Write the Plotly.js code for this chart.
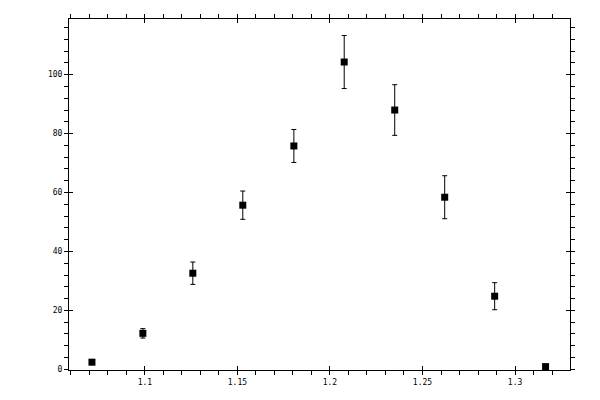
<!DOCTYPE html>
<html>
<head>
<meta charset="utf-8">
<script src="https://cdn.plot.ly/plotly-3.0.1.min.js"></script>
<style>html,body{margin:0;padding:0;background:#fff;}#chart{width:600px;height:400px;}</style>
</head>
<body>
<div id="chart"></div>
<script>
var xValues = [1.0714, 1.0989, 1.1259, 1.1529, 1.1805, 1.2077, 1.235, 1.262, 1.289, 1.3165];
var yValues = [2.4, 12.2, 32.6, 55.7, 75.8, 104.3, 88.0, 58.4, 24.8, 0.9];
var yErrors = [0.8, 1.6, 3.8, 4.8, 5.6, 9.0, 8.6, 7.3, 4.6, 0.5];

var xRange = [1.0590, 1.3297];
var yRange = [-0.25, 118.9];

var tickFont = {family: 'DejaVu Sans Mono', size: 8, color: '#000'};

var trace = {
  x: xValues, y: yValues, type: 'scatter', mode: 'markers',
  marker: {symbol: 'square', size: 7, color: '#000'},
  error_y: {type: 'data', array: yErrors, visible: true, color: '#000', thickness: 1, width: 2.5},
  xaxis: 'x', yaxis: 'y', showlegend: false, hoverinfo: 'none'
};
var dummy = {x: [xRange[0]], y: [yRange[0]], type: 'scatter', mode: 'markers',
  marker: {opacity: 0}, xaxis: 'x2', yaxis: 'y2', showlegend: false, hoverinfo: 'none'};

var layout = {
  width: 600, height: 400,
  margin: {l: 69, r: 30, t: 19, b: 30},
  paper_bgcolor: '#fff', plot_bgcolor: '#fff',
  xaxis: {
    range: xRange, showgrid: false, zeroline: false,
    showline: true, linecolor: '#000', linewidth: 1, mirror: 'ticks',
    ticks: 'outside', ticklen: 4, tickwidth: 1, tickcolor: '#000',
    tick0: 1.1, dtick: 0.05, tickfont: tickFont,
    tickvals: [1.1, 1.15, 1.2, 1.25, 1.3], ticktext: ['1.1', '1.15', '1.2', '1.25', '1.3'],
    minor: {dtick: 0.01, tick0: 1.0, ticks: 'outside', ticklen: 4, tickwidth: 1, tickcolor: '#000', showgrid: false}
  },
  yaxis: {
    range: yRange, showgrid: false, zeroline: false,
    showline: true, linecolor: '#000', linewidth: 1, mirror: 'ticks',
    ticks: 'outside', ticklen: 4, tickwidth: 1, tickcolor: '#000',
    tick0: 0, dtick: 20, tickfont: tickFont,
    minor: {dtick: 4, tick0: 0, ticks: 'outside', ticklen: 4, tickwidth: 1, tickcolor: '#000', showgrid: false}
  },
  xaxis2: {
    overlaying: 'x', range: xRange, showgrid: false, zeroline: false,
    showline: false, mirror: 'ticks', ticks: 'inside', ticklen: 4, tickwidth: 1, tickcolor: '#000',
    tickvals: [1.1, 1.15, 1.2, 1.25, 1.3], showticklabels: false, anchor: 'y2'
  },
  yaxis2: {
    overlaying: 'y', range: yRange, showgrid: false, zeroline: false,
    showline: false, mirror: 'ticks', ticks: 'inside', ticklen: 4, tickwidth: 1, tickcolor: '#000',
    tick0: 0, dtick: 20, showticklabels: false, anchor: 'x2'
  }
};

Plotly.newPlot('chart', [dummy, trace], layout, {staticPlot: true});
</script>
</body>
</html>
